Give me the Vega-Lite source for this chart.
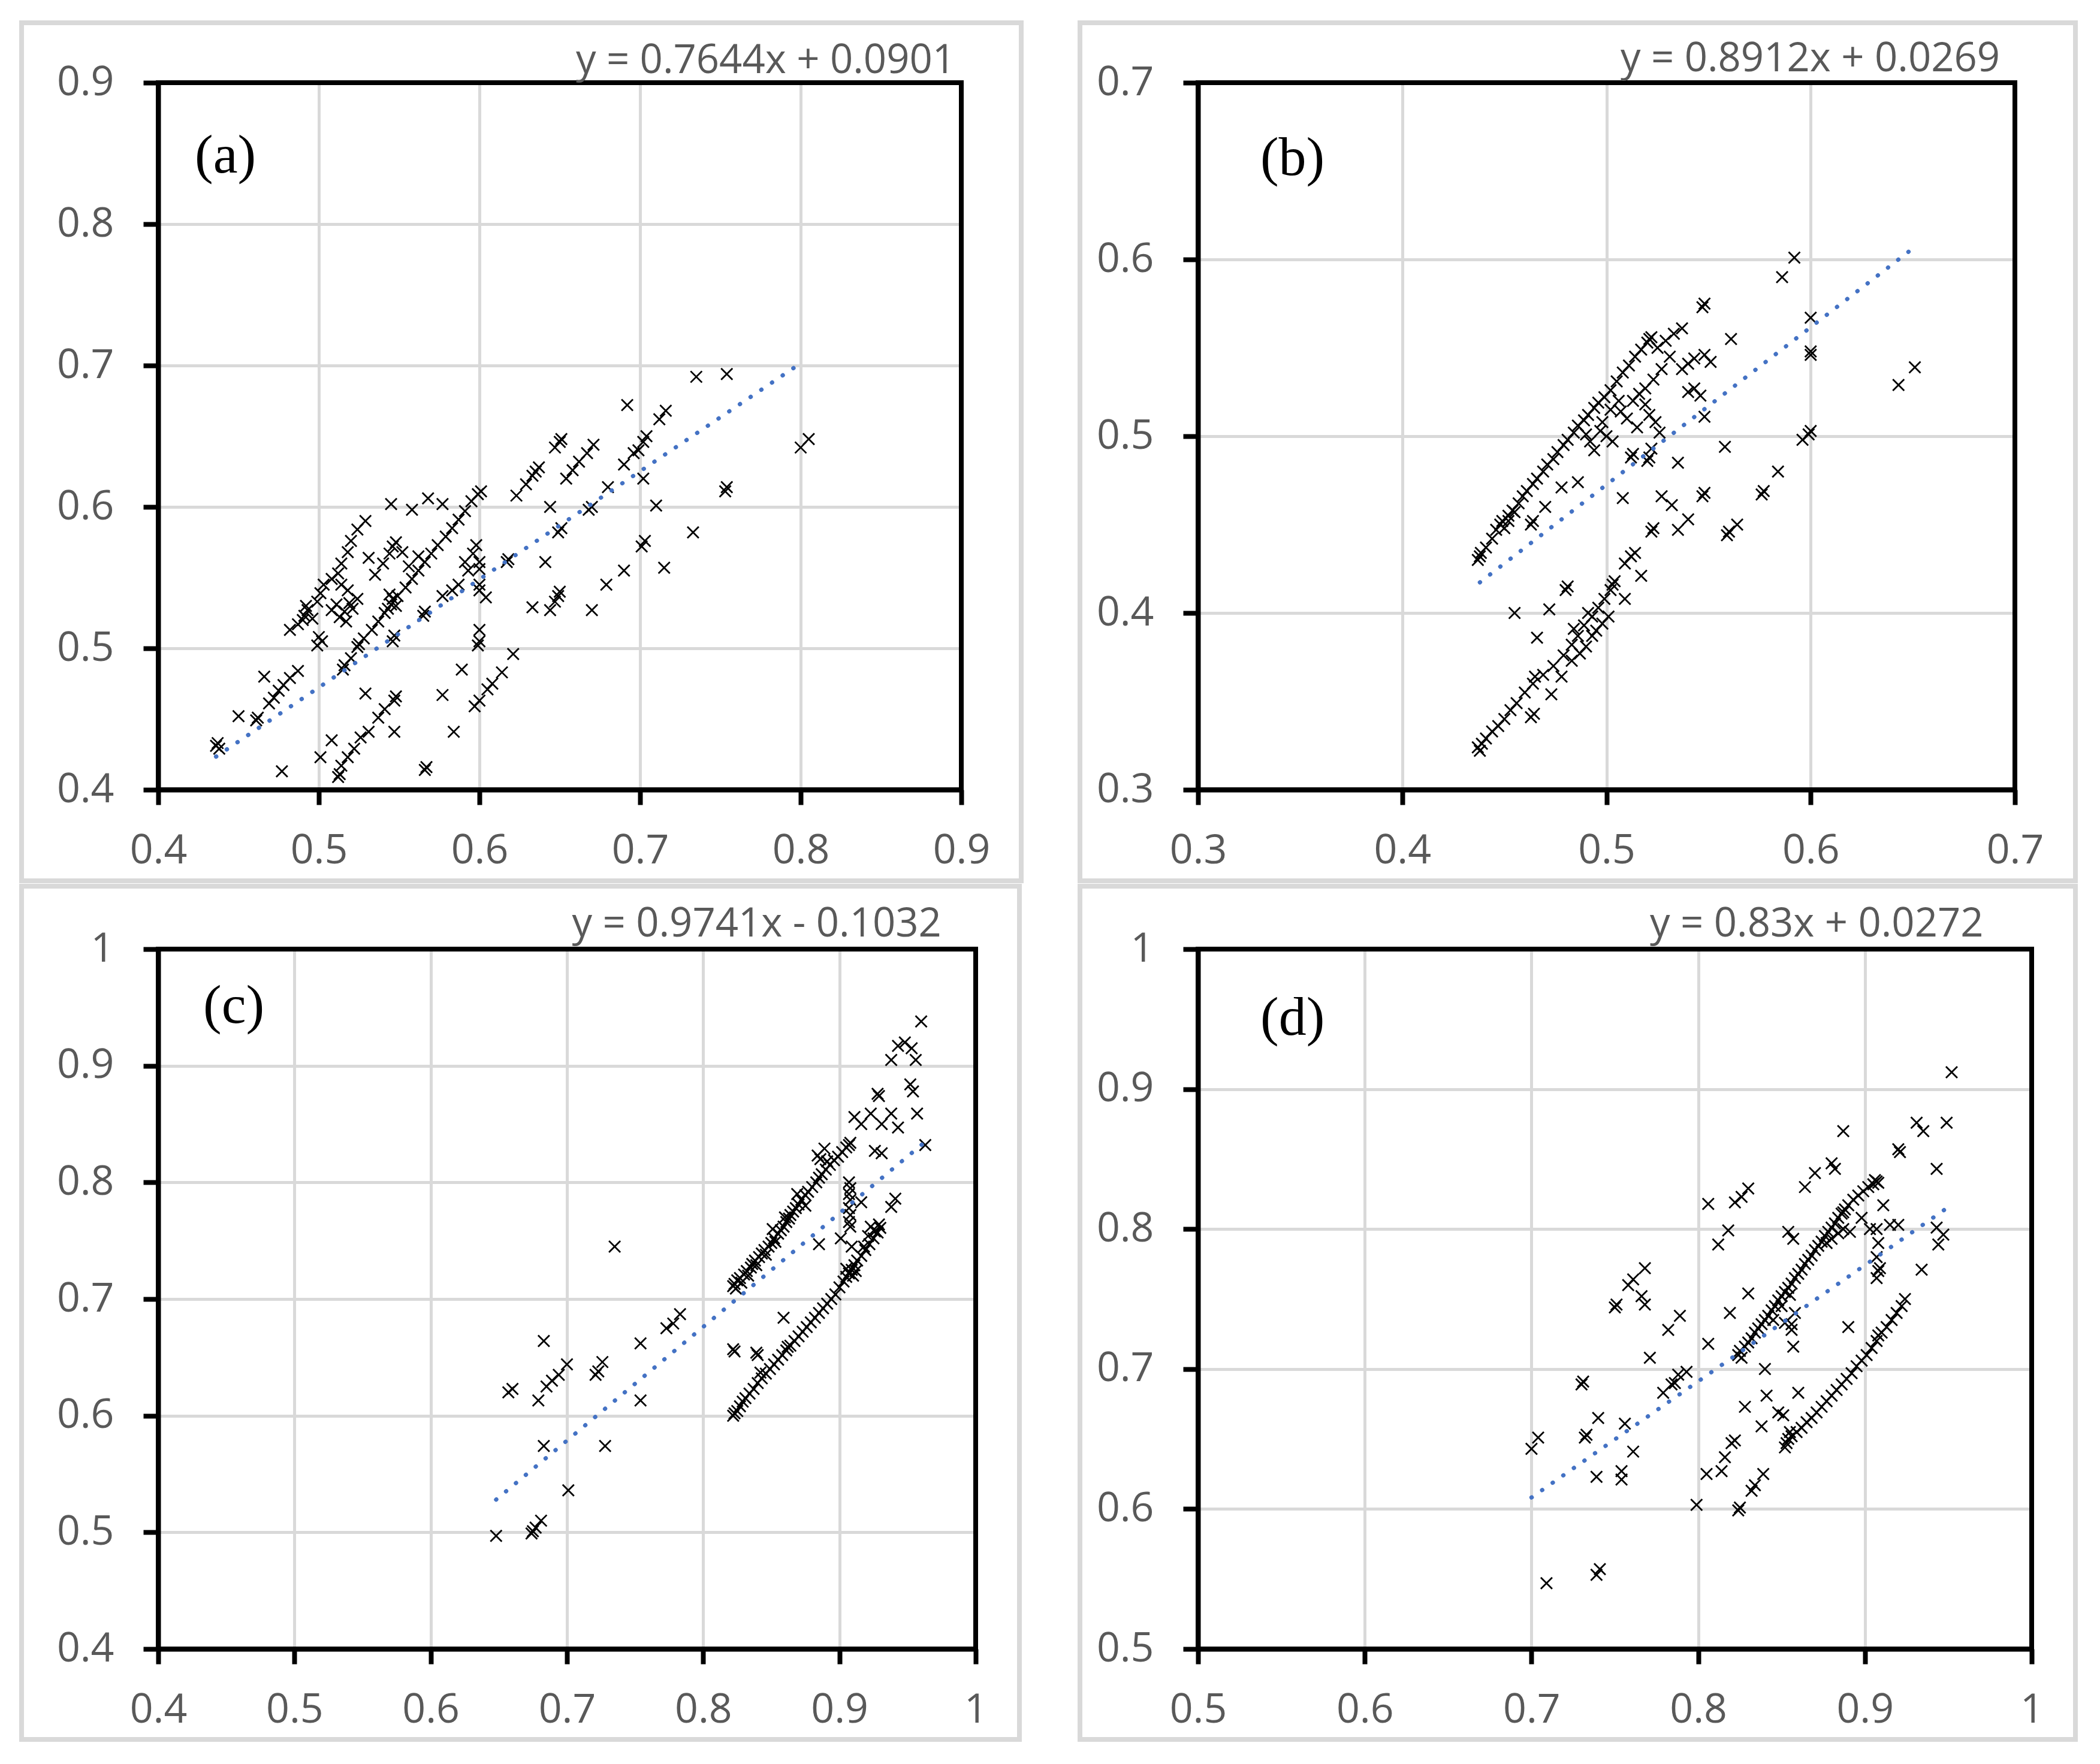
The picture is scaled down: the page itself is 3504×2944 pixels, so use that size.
{
  "$schema": "https://vega.github.io/schema/vega-lite/v6.json",
  "background": "white",
  "padding": {"left": 32, "top": 33, "right": 0, "bottom": 0},
  "autosize": {"type": "pad"},
  "bounds": "flush",
  "columns": 2,
  "spacing": {"row": 266, "column": 371},
  "config": {
    "view": {"stroke": null},
    "axis": {"grid": true, "domainColor": "#000000", "domainWidth": 8, "tickColor": "#000000", "tickWidth": 8, "tickSize": 25, "gridColor": "#d9d9d9", "gridWidth": 5, "gridOpacity": 1, "labelFont": "Open Sans", "labelFontSize": 68, "labelColor": "#595959", "labelFlush": false, "labelOverlap": false},
    "axisX": {"labelPadding": 43},
    "axisY": {"labelPadding": 49}
  },
  "datasets": {
    "a": [
      {"x":0.436,"y":0.431},{"x":0.437,"y":0.433},{"x":0.438,"y":0.429},{"x":0.450,"y":0.452},{"x":0.461,"y":0.449},{"x":0.462,"y":0.451},{"x":0.466,"y":0.480},{"x":0.469,"y":0.461},{"x":0.472,"y":0.465},{"x":0.475,"y":0.470},{"x":0.478,"y":0.474},{"x":0.482,"y":0.479},{"x":0.487,"y":0.484},{"x":0.477,"y":0.413},
      {"x":0.482,"y":0.513},{"x":0.487,"y":0.517},{"x":0.491,"y":0.523},{"x":0.493,"y":0.527},{"x":0.496,"y":0.521},{"x":0.499,"y":0.533},{"x":0.501,"y":0.539},{"x":0.503,"y":0.545},{"x":0.508,"y":0.549},{"x":0.512,"y":0.553},{"x":0.514,"y":0.545},{"x":0.514,"y":0.560},{"x":0.518,"y":0.568},{"x":0.520,"y":0.576},{"x":0.524,"y":0.584},{"x":0.529,"y":0.590},
      {"x":0.499,"y":0.502},{"x":0.502,"y":0.505},{"x":0.500,"y":0.508},{"x":0.508,"y":0.527},{"x":0.511,"y":0.531},{"x":0.513,"y":0.522},{"x":0.516,"y":0.526},{"x":0.519,"y":0.532},{"x":0.521,"y":0.528},{"x":0.524,"y":0.535},{"x":0.517,"y":0.519},{"x":0.518,"y":0.541},{"x":0.490,"y":0.520},{"x":0.492,"y":0.530},
      {"x":0.501,"y":0.423},{"x":0.508,"y":0.435},{"x":0.512,"y":0.409},{"x":0.513,"y":0.411},{"x":0.514,"y":0.417},{"x":0.518,"y":0.423},{"x":0.522,"y":0.429},{"x":0.526,"y":0.437},{"x":0.531,"y":0.441},{"x":0.529,"y":0.468},{"x":0.537,"y":0.451},{"x":0.541,"y":0.457},{"x":0.547,"y":0.463},{"x":0.548,"y":0.466},{"x":0.547,"y":0.441},
      {"x":0.515,"y":0.485},{"x":0.516,"y":0.488},{"x":0.520,"y":0.493},{"x":0.524,"y":0.501},{"x":0.525,"y":0.503},{"x":0.528,"y":0.507},{"x":0.533,"y":0.513},{"x":0.537,"y":0.519},{"x":0.541,"y":0.525},{"x":0.545,"y":0.531},{"x":0.549,"y":0.537},{"x":0.554,"y":0.543},{"x":0.558,"y":0.549},{"x":0.562,"y":0.555},{"x":0.566,"y":0.561},{"x":0.570,"y":0.567},{"x":0.574,"y":0.573},{"x":0.579,"y":0.579},{"x":0.583,"y":0.585},{"x":0.587,"y":0.591},{"x":0.591,"y":0.597},{"x":0.595,"y":0.604},{"x":0.599,"y":0.609},{"x":0.601,"y":0.611},
      {"x":0.543,"y":0.528},{"x":0.546,"y":0.535},{"x":0.548,"y":0.530},{"x":0.544,"y":0.538},{"x":0.547,"y":0.509},{"x":0.546,"y":0.505},{"x":0.546,"y":0.572},{"x":0.548,"y":0.575},{"x":0.544,"y":0.567},{"x":0.545,"y":0.602},{"x":0.558,"y":0.598},{"x":0.568,"y":0.606},{"x":0.577,"y":0.602},{"x":0.531,"y":0.564},{"x":0.535,"y":0.552},{"x":0.540,"y":0.560},{"x":0.552,"y":0.568},{"x":0.556,"y":0.558},{"x":0.562,"y":0.565},
      {"x":0.565,"y":0.523},{"x":0.566,"y":0.526},{"x":0.566,"y":0.414},{"x":0.567,"y":0.416},{"x":0.577,"y":0.467},{"x":0.584,"y":0.441},{"x":0.589,"y":0.485},{"x":0.599,"y":0.502},{"x":0.600,"y":0.505},{"x":0.600,"y":0.513},
      {"x":0.597,"y":0.459},{"x":0.600,"y":0.463},{"x":0.605,"y":0.471},{"x":0.608,"y":0.475},{"x":0.614,"y":0.483},{"x":0.621,"y":0.496},
      {"x":0.600,"y":0.541},{"x":0.600,"y":0.545},{"x":0.604,"y":0.536},{"x":0.598,"y":0.573},{"x":0.600,"y":0.561},{"x":0.596,"y":0.567},{"x":0.591,"y":0.561},{"x":0.593,"y":0.555},{"x":0.587,"y":0.545},{"x":0.583,"y":0.541},{"x":0.577,"y":0.537},{"x":0.600,"y":0.556},
      {"x":0.617,"y":0.561},{"x":0.618,"y":0.563},{"x":0.623,"y":0.608},{"x":0.629,"y":0.616},{"x":0.633,"y":0.622},{"x":0.635,"y":0.625},{"x":0.637,"y":0.628},{"x":0.644,"y":0.600},{"x":0.641,"y":0.561},
      {"x":0.633,"y":0.529},{"x":0.644,"y":0.527},{"x":0.647,"y":0.533},{"x":0.649,"y":0.537},{"x":0.650,"y":0.540},{"x":0.649,"y":0.582},{"x":0.651,"y":0.585},{"x":0.647,"y":0.642},{"x":0.650,"y":0.646},{"x":0.651,"y":0.648},
      {"x":0.654,"y":0.620},{"x":0.658,"y":0.626},{"x":0.662,"y":0.632},{"x":0.667,"y":0.638},{"x":0.671,"y":0.644},{"x":0.668,"y":0.598},{"x":0.670,"y":0.600},{"x":0.670,"y":0.527},{"x":0.679,"y":0.545},{"x":0.690,"y":0.555},{"x":0.680,"y":0.614},{"x":0.692,"y":0.672},
      {"x":0.690,"y":0.630},{"x":0.696,"y":0.638},{"x":0.699,"y":0.640},{"x":0.702,"y":0.646},{"x":0.702,"y":0.620},{"x":0.701,"y":0.572},{"x":0.703,"y":0.576},{"x":0.710,"y":0.601},{"x":0.715,"y":0.557},{"x":0.704,"y":0.650},{"x":0.712,"y":0.662},{"x":0.716,"y":0.668},
      {"x":0.733,"y":0.582},{"x":0.735,"y":0.692},{"x":0.754,"y":0.694},{"x":0.753,"y":0.611},{"x":0.754,"y":0.614},{"x":0.800,"y":0.642},{"x":0.805,"y":0.648}
    ],
    "ta": [{"x":0.436,"y":0.4234},{"x":0.800,"y":0.7016}],
    "b": [
      {"x":0.438,"y":0.432},{"x":0.4385,"y":0.434},{"x":0.437,"y":0.430},{"x":0.441,"y":0.437},{"x":0.444,"y":0.442},{"x":0.446,"y":0.447},{"x":0.448,"y":0.450},{"x":0.449,"y":0.452},{"x":0.452,"y":0.455},{"x":0.454,"y":0.458},{"x":0.457,"y":0.462},{"x":0.459,"y":0.466},{"x":0.461,"y":0.469},{"x":0.464,"y":0.473},{"x":0.466,"y":0.476},{"x":0.469,"y":0.480},{"x":0.471,"y":0.484},{"x":0.474,"y":0.487},{"x":0.476,"y":0.491},{"x":0.479,"y":0.495},{"x":0.481,"y":0.498},{"x":0.484,"y":0.502},{"x":0.486,"y":0.506},{"x":0.489,"y":0.509},{"x":0.491,"y":0.512},{"x":0.494,"y":0.516},{"x":0.496,"y":0.519},{"x":0.499,"y":0.522},{"x":0.502,"y":0.526},{"x":0.505,"y":0.531},{"x":0.508,"y":0.536},{"x":0.511,"y":0.540},{"x":0.514,"y":0.545},{"x":0.517,"y":0.549},{"x":0.520,"y":0.553},{"x":0.521,"y":0.555},{"x":0.522,"y":0.556},
      {"x":0.450,"y":0.448},{"x":0.452,"y":0.452},{"x":0.455,"y":0.457},{"x":0.463,"y":0.450},{"x":0.464,"y":0.452},
      {"x":0.525,"y":0.550},{"x":0.529,"y":0.554},{"x":0.533,"y":0.558},{"x":0.537,"y":0.561},{"x":0.547,"y":0.573},{"x":0.548,"y":0.575},
      {"x":0.497,"y":0.503},{"x":0.500,"y":0.500},{"x":0.503,"y":0.497},{"x":0.507,"y":0.514},{"x":0.510,"y":0.510},{"x":0.513,"y":0.520},{"x":0.516,"y":0.524},{"x":0.519,"y":0.518},{"x":0.521,"y":0.512},{"x":0.524,"y":0.508},{"x":0.526,"y":0.502},{"x":0.519,"y":0.527},{"x":0.523,"y":0.532},{"x":0.527,"y":0.538},{"x":0.531,"y":0.545},{"x":0.522,"y":0.493},{"x":0.521,"y":0.488},{"x":0.520,"y":0.486},{"x":0.515,"y":0.505},{"x":0.506,"y":0.520},{"x":0.502,"y":0.515},{"x":0.498,"y":0.508},{"x":0.492,"y":0.497},{"x":0.494,"y":0.492},{"x":0.490,"y":0.501},
      {"x":0.512,"y":0.488},{"x":0.513,"y":0.490},{"x":0.522,"y":0.446},{"x":0.523,"y":0.448},{"x":0.508,"y":0.465},{"x":0.535,"y":0.485},{"x":0.527,"y":0.466},{"x":0.532,"y":0.461},{"x":0.535,"y":0.447},{"x":0.540,"y":0.453},{"x":0.547,"y":0.466},{"x":0.548,"y":0.468},
      {"x":0.540,"y":0.525},{"x":0.543,"y":0.527},{"x":0.546,"y":0.523},{"x":0.548,"y":0.511},{"x":0.537,"y":0.538},{"x":0.540,"y":0.541},{"x":0.543,"y":0.544},{"x":0.548,"y":0.546},{"x":0.551,"y":0.542},{"x":0.561,"y":0.555},{"x":0.558,"y":0.494},
      {"x":0.559,"y":0.444},{"x":0.560,"y":0.446},{"x":0.564,"y":0.450},{"x":0.576,"y":0.467},{"x":0.577,"y":0.469},{"x":0.584,"y":0.480},{"x":0.586,"y":0.590},{"x":0.592,"y":0.601},{"x":0.600,"y":0.567},{"x":0.600,"y":0.546},{"x":0.600,"y":0.548},{"x":0.596,"y":0.498},{"x":0.599,"y":0.501},{"x":0.600,"y":0.503},{"x":0.643,"y":0.529},{"x":0.651,"y":0.539},
      {"x":0.438,"y":0.322},{"x":0.437,"y":0.324},{"x":0.439,"y":0.326},{"x":0.441,"y":0.329},{"x":0.444,"y":0.333},{"x":0.447,"y":0.336},{"x":0.450,"y":0.340},{"x":0.453,"y":0.345},{"x":0.456,"y":0.349},{"x":0.460,"y":0.355},{"x":0.464,"y":0.360},{"x":0.469,"y":0.365},{"x":0.474,"y":0.370},{"x":0.479,"y":0.376},{"x":0.483,"y":0.382},{"x":0.486,"y":0.387},{"x":0.489,"y":0.393},{"x":0.493,"y":0.398},{"x":0.496,"y":0.403},{"x":0.499,"y":0.408},{"x":0.502,"y":0.413},{"x":0.504,"y":0.418},{"x":0.503,"y":0.416},
      {"x":0.478,"y":0.364},{"x":0.483,"y":0.373},{"x":0.487,"y":0.377},{"x":0.490,"y":0.381},{"x":0.493,"y":0.387},{"x":0.495,"y":0.390},{"x":0.498,"y":0.394},{"x":0.501,"y":0.398},
      {"x":0.463,"y":0.341},{"x":0.4645,"y":0.343},{"x":0.465,"y":0.364},{"x":0.473,"y":0.354},{"x":0.466,"y":0.386},{"x":0.455,"y":0.400},{"x":0.472,"y":0.402},{"x":0.480,"y":0.413},{"x":0.481,"y":0.415},{"x":0.484,"y":0.391},{"x":0.491,"y":0.400},{"x":0.509,"y":0.408},{"x":0.517,"y":0.421},{"x":0.514,"y":0.434},{"x":0.509,"y":0.428},{"x":0.512,"y":0.432},{"x":0.470,"y":0.460},{"x":0.478,"y":0.471},{"x":0.486,"y":0.474}
    ],
    "tb": [{"x":0.438,"y":0.4173},{"x":0.651,"y":0.6071}],
    "c": [
      {"x":0.648,"y":0.497},{"x":0.674,"y":0.499},{"x":0.675,"y":0.501},{"x":0.677,"y":0.504},{"x":0.681,"y":0.510},{"x":0.683,"y":0.574},{"x":0.701,"y":0.536},{"x":0.728,"y":0.574},
      {"x":0.657,"y":0.620},{"x":0.660,"y":0.623},{"x":0.679,"y":0.613},{"x":0.685,"y":0.625},{"x":0.689,"y":0.630},{"x":0.694,"y":0.635},{"x":0.700,"y":0.644},{"x":0.683,"y":0.664},{"x":0.721,"y":0.635},{"x":0.723,"y":0.638},{"x":0.726,"y":0.646},
      {"x":0.735,"y":0.745},{"x":0.754,"y":0.662},{"x":0.754,"y":0.613},{"x":0.773,"y":0.675},{"x":0.778,"y":0.679},{"x":0.783,"y":0.687},
      {"x":0.822,"y":0.711},{"x":0.823,"y":0.713},{"x":0.824,"y":0.709},{"x":0.825,"y":0.716},{"x":0.827,"y":0.718},{"x":0.828,"y":0.714},{"x":0.830,"y":0.721},{"x":0.832,"y":0.724},{"x":0.833,"y":0.720},{"x":0.835,"y":0.727},{"x":0.836,"y":0.730},{"x":0.838,"y":0.733},{"x":0.839,"y":0.729},{"x":0.841,"y":0.736},{"x":0.843,"y":0.739},{"x":0.845,"y":0.742},{"x":0.846,"y":0.738},{"x":0.848,"y":0.745},{"x":0.850,"y":0.748},{"x":0.852,"y":0.752},{"x":0.853,"y":0.749},{"x":0.855,"y":0.756},{"x":0.857,"y":0.759},{"x":0.859,"y":0.762},{"x":0.861,"y":0.766},{"x":0.863,"y":0.769},{"x":0.864,"y":0.772},{"x":0.866,"y":0.775},{"x":0.868,"y":0.778},{"x":0.870,"y":0.781},{"x":0.872,"y":0.785},{"x":0.875,"y":0.789},{"x":0.877,"y":0.792},{"x":0.880,"y":0.796},{"x":0.883,"y":0.800},{"x":0.885,"y":0.804},{"x":0.887,"y":0.807},{"x":0.890,"y":0.811},{"x":0.893,"y":0.815},{"x":0.896,"y":0.819},{"x":0.899,"y":0.822},{"x":0.902,"y":0.826},{"x":0.905,"y":0.830},{"x":0.907,"y":0.832},{"x":0.908,"y":0.834},{"x":0.886,"y":0.820},{"x":0.884,"y":0.823},{"x":0.889,"y":0.829},{"x":0.891,"y":0.818},{"x":0.869,"y":0.790},{"x":0.875,"y":0.780},{"x":0.860,"y":0.770},{"x":0.851,"y":0.760},
      {"x":0.822,"y":0.600},{"x":0.823,"y":0.602},{"x":0.825,"y":0.604},{"x":0.827,"y":0.608},{"x":0.829,"y":0.612},{"x":0.831,"y":0.615},{"x":0.834,"y":0.619},{"x":0.837,"y":0.623},{"x":0.840,"y":0.628},{"x":0.843,"y":0.632},{"x":0.846,"y":0.636},{"x":0.849,"y":0.640},{"x":0.852,"y":0.644},{"x":0.855,"y":0.648},{"x":0.858,"y":0.652},{"x":0.861,"y":0.656},{"x":0.864,"y":0.660},{"x":0.867,"y":0.664},{"x":0.870,"y":0.668},{"x":0.873,"y":0.672},{"x":0.876,"y":0.676},{"x":0.879,"y":0.680},{"x":0.882,"y":0.684},{"x":0.885,"y":0.688},{"x":0.888,"y":0.692},{"x":0.891,"y":0.696},{"x":0.894,"y":0.700},{"x":0.897,"y":0.704},{"x":0.900,"y":0.710},{"x":0.903,"y":0.715},{"x":0.905,"y":0.719},{"x":0.907,"y":0.722},{"x":0.909,"y":0.725},{"x":0.911,"y":0.729},{"x":0.913,"y":0.733},{"x":0.916,"y":0.737},{"x":0.919,"y":0.742},{"x":0.922,"y":0.747},{"x":0.925,"y":0.752},{"x":0.928,"y":0.757},{"x":0.930,"y":0.761},{"x":0.905,"y":0.726},{"x":0.910,"y":0.720},{"x":0.912,"y":0.724},
      {"x":0.822,"y":0.657},{"x":0.823,"y":0.655},{"x":0.839,"y":0.654},{"x":0.840,"y":0.652},{"x":0.842,"y":0.637},{"x":0.859,"y":0.684},{"x":0.862,"y":0.659},
      {"x":0.907,"y":0.800},{"x":0.908,"y":0.795},{"x":0.907,"y":0.790},{"x":0.908,"y":0.785},{"x":0.907,"y":0.778},{"x":0.908,"y":0.772},{"x":0.907,"y":0.766},{"x":0.908,"y":0.762},{"x":0.909,"y":0.745},{"x":0.901,"y":0.752},{"x":0.885,"y":0.747},{"x":0.916,"y":0.783},{"x":0.918,"y":0.745},
      {"x":0.911,"y":0.856},{"x":0.916,"y":0.850},{"x":0.923,"y":0.859},{"x":0.931,"y":0.850},{"x":0.938,"y":0.859},{"x":0.928,"y":0.876},{"x":0.929,"y":0.874},{"x":0.938,"y":0.905},{"x":0.943,"y":0.917},{"x":0.948,"y":0.920},{"x":0.953,"y":0.915},{"x":0.956,"y":0.905},{"x":0.960,"y":0.938},{"x":0.952,"y":0.884},{"x":0.954,"y":0.878},{"x":0.957,"y":0.859},{"x":0.963,"y":0.832},{"x":0.943,"y":0.847},{"x":0.926,"y":0.827},{"x":0.931,"y":0.825},{"x":0.941,"y":0.786},{"x":0.938,"y":0.779},{"x":0.923,"y":0.762},{"x":0.926,"y":0.758},{"x":0.921,"y":0.754},{"x":0.929,"y":0.764}
    ],
    "tc": [{"x":0.648,"y":0.5280},{"x":0.962,"y":0.8339}],
    "d": [
      {"x":0.700,"y":0.643},{"x":0.704,"y":0.651},{"x":0.709,"y":0.547},{"x":0.730,"y":0.689},{"x":0.731,"y":0.691},{"x":0.732,"y":0.651},{"x":0.733,"y":0.653},{"x":0.740,"y":0.665},{"x":0.739,"y":0.623},{"x":0.739,"y":0.553},{"x":0.741,"y":0.557},{"x":0.750,"y":0.744},{"x":0.751,"y":0.746},
      {"x":0.758,"y":0.760},{"x":0.761,"y":0.764},{"x":0.768,"y":0.772},{"x":0.766,"y":0.752},{"x":0.768,"y":0.746},{"x":0.756,"y":0.661},{"x":0.761,"y":0.641},{"x":0.754,"y":0.627},{"x":0.754,"y":0.621},
      {"x":0.771,"y":0.708},{"x":0.782,"y":0.728},{"x":0.789,"y":0.738},{"x":0.779,"y":0.683},{"x":0.784,"y":0.689},{"x":0.788,"y":0.696},{"x":0.793,"y":0.698},{"x":0.786,"y":0.690},
      {"x":0.799,"y":0.603},{"x":0.806,"y":0.818},{"x":0.818,"y":0.799},{"x":0.812,"y":0.789},{"x":0.822,"y":0.819},{"x":0.826,"y":0.823},{"x":0.830,"y":0.829},{"x":0.819,"y":0.740},{"x":0.806,"y":0.718},
      {"x":0.805,"y":0.625},{"x":0.814,"y":0.627},{"x":0.816,"y":0.637},{"x":0.820,"y":0.647},{"x":0.822,"y":0.649},{"x":0.824,"y":0.599},{"x":0.825,"y":0.601},{"x":0.832,"y":0.613},{"x":0.834,"y":0.617},{"x":0.839,"y":0.625},{"x":0.828,"y":0.673},{"x":0.838,"y":0.659},{"x":0.841,"y":0.681},{"x":0.840,"y":0.700},{"x":0.830,"y":0.754},
      {"x":0.824,"y":0.710},{"x":0.825,"y":0.713},{"x":0.826,"y":0.708},{"x":0.828,"y":0.716},{"x":0.830,"y":0.719},{"x":0.832,"y":0.722},{"x":0.834,"y":0.726},{"x":0.836,"y":0.729},{"x":0.838,"y":0.732},{"x":0.840,"y":0.735},{"x":0.842,"y":0.738},{"x":0.844,"y":0.742},{"x":0.846,"y":0.745},{"x":0.848,"y":0.749},{"x":0.850,"y":0.752},{"x":0.852,"y":0.755},{"x":0.854,"y":0.758},{"x":0.856,"y":0.761},{"x":0.858,"y":0.765},{"x":0.860,"y":0.768},{"x":0.862,"y":0.771},{"x":0.864,"y":0.775},{"x":0.866,"y":0.778},{"x":0.868,"y":0.781},{"x":0.870,"y":0.785},{"x":0.872,"y":0.788},{"x":0.874,"y":0.791},{"x":0.876,"y":0.795},{"x":0.878,"y":0.798},{"x":0.880,"y":0.801},{"x":0.882,"y":0.804},{"x":0.884,"y":0.808},{"x":0.886,"y":0.811},{"x":0.888,"y":0.814},{"x":0.890,"y":0.817},{"x":0.893,"y":0.821},{"x":0.896,"y":0.824},{"x":0.899,"y":0.827},{"x":0.902,"y":0.830},{"x":0.905,"y":0.832},{"x":0.907,"y":0.834},{"x":0.908,"y":0.833},{"x":0.906,"y":0.835},
      {"x":0.845,"y":0.735},{"x":0.850,"y":0.745},{"x":0.855,"y":0.753},{"x":0.852,"y":0.733},{"x":0.856,"y":0.728},{"x":0.858,"y":0.740},{"x":0.877,"y":0.790},{"x":0.880,"y":0.793},{"x":0.884,"y":0.797},{"x":0.887,"y":0.800},{"x":0.891,"y":0.798},{"x":0.887,"y":0.812},
      {"x":0.864,"y":0.830},{"x":0.870,"y":0.840},{"x":0.880,"y":0.847},{"x":0.882,"y":0.843},{"x":0.887,"y":0.870},{"x":0.854,"y":0.798},{"x":0.857,"y":0.793},{"x":0.856,"y":0.732},{"x":0.857,"y":0.716},{"x":0.848,"y":0.669},{"x":0.851,"y":0.667},{"x":0.860,"y":0.683},
      {"x":0.853,"y":0.647},{"x":0.854,"y":0.650},{"x":0.856,"y":0.652},{"x":0.859,"y":0.655},{"x":0.862,"y":0.658},{"x":0.865,"y":0.662},{"x":0.868,"y":0.665},{"x":0.871,"y":0.669},{"x":0.874,"y":0.673},{"x":0.877,"y":0.677},{"x":0.880,"y":0.681},{"x":0.883,"y":0.685},{"x":0.886,"y":0.689},{"x":0.889,"y":0.693},{"x":0.892,"y":0.697},{"x":0.895,"y":0.702},{"x":0.898,"y":0.706},{"x":0.901,"y":0.710},{"x":0.904,"y":0.715},{"x":0.907,"y":0.720},{"x":0.908,"y":0.724},{"x":0.910,"y":0.726},{"x":0.913,"y":0.730},{"x":0.916,"y":0.735},{"x":0.919,"y":0.740},{"x":0.922,"y":0.745},{"x":0.924,"y":0.750},{"x":0.852,"y":0.644},{"x":0.855,"y":0.655},{"x":0.890,"y":0.730},
      {"x":0.907,"y":0.800},{"x":0.908,"y":0.790},{"x":0.907,"y":0.780},{"x":0.908,"y":0.770},{"x":0.907,"y":0.765},{"x":0.909,"y":0.772},
      {"x":0.911,"y":0.817},{"x":0.915,"y":0.803},{"x":0.920,"y":0.803},{"x":0.920,"y":0.857},{"x":0.921,"y":0.855},{"x":0.931,"y":0.876},{"x":0.935,"y":0.870},{"x":0.949,"y":0.876},{"x":0.952,"y":0.912},{"x":0.943,"y":0.843},{"x":0.934,"y":0.771},{"x":0.943,"y":0.801},{"x":0.947,"y":0.796},{"x":0.944,"y":0.789},{"x":0.903,"y":0.800},{"x":0.898,"y":0.808}
    ],
    "td": [{"x":0.700,"y":0.6082},{"x":0.950,"y":0.8157}]
  },
  "concat": [
    {
      "width": 1340, "height": 1180,
      "layer": [
        {"data": {"values": [{}]}, "mark": {"type": "rect", "filled": false, "stroke": "#d9d9d9", "strokeWidth": 8},
         "encoding": {"x": {"datum": 0.31493, "type": "quantitative", "scale": {"domain": [0.4, 0.9], "nice": false, "zero": false}, "axis": {"title": null, "grid": true, "values": [0.4, 0.5, 0.6, 0.7, 0.8, 0.9], "format": ".1~f"}}, "x2": {"datum": 0.93731}, "y": {"datum": 0.94237, "type": "quantitative", "scale": {"domain": [0.4, 0.9], "nice": false, "zero": false}, "axis": {"title": null, "grid": true, "values": [0.4, 0.5, 0.6, 0.7, 0.8, 0.9], "format": ".1~f"}}, "y2": {"datum": 0.33559}}},
        {"data": {"name": "a"}, "mark": {"type": "point", "shape": "M-1,-1L1,1M-1,1L1,-1", "filled": false, "stroke": "#000000", "strokeWidth": 2.8, "size": 361, "opacity": 1},
         "encoding": {"x": {"field": "x", "type": "quantitative", "scale": {"domain": [0.4, 0.9], "nice": false, "zero": false}, "axis": {"title": null, "grid": true, "values": [0.4, 0.5, 0.6, 0.7, 0.8, 0.9], "format": ".1~f"}}, "y": {"field": "y", "type": "quantitative", "scale": {"domain": [0.4, 0.9], "nice": false, "zero": false}, "axis": {"title": null, "grid": true, "values": [0.4, 0.5, 0.6, 0.7, 0.8, 0.9], "format": ".1~f"}}}},
        {"data": {"name": "ta"}, "mark": {"type": "line", "stroke": "#4472C4", "strokeWidth": 7, "strokeDash": [0.5, 21], "strokeCap": "round"},
         "encoding": {"x": {"field": "x", "type": "quantitative", "scale": {"domain": [0.4, 0.9], "nice": false, "zero": false}, "axis": {"title": null, "grid": true, "values": [0.4, 0.5, 0.6, 0.7, 0.8, 0.9], "format": ".1~f"}}, "y": {"field": "y", "type": "quantitative", "scale": {"domain": [0.4, 0.9], "nice": false, "zero": false}, "axis": {"title": null, "grid": true, "values": [0.4, 0.5, 0.6, 0.7, 0.8, 0.9], "format": ".1~f"}}}},
        {"data": {"values": [{}]}, "mark": {"type": "rect", "filled": false, "stroke": "#000000", "strokeWidth": 8},
         "encoding": {"x": {"datum": 0.4, "type": "quantitative", "scale": {"domain": [0.4, 0.9], "nice": false, "zero": false}, "axis": {"title": null, "grid": true, "values": [0.4, 0.5, 0.6, 0.7, 0.8, 0.9], "format": ".1~f"}}, "x2": {"datum": 0.9}, "y": {"datum": 0.4, "type": "quantitative", "scale": {"domain": [0.4, 0.9], "nice": false, "zero": false}, "axis": {"title": null, "grid": true, "values": [0.4, 0.5, 0.6, 0.7, 0.8, 0.9], "format": ".1~f"}}, "y2": {"datum": 0.9}}},
        {"data": {"values": [{}]}, "mark": {"type": "text", "text": "y = 0.7644x + 0.0901", "align": "right", "baseline": "alphabetic", "font": "Open Sans", "fontSize": 67, "color": "#595959"},
         "encoding": {"x": {"datum": 0.8963, "type": "quantitative", "scale": {"domain": [0.4, 0.9], "nice": false, "zero": false}, "axis": {"title": null, "grid": true, "values": [0.4, 0.5, 0.6, 0.7, 0.8, 0.9], "format": ".1~f"}}, "y": {"datum": 0.9068, "type": "quantitative", "scale": {"domain": [0.4, 0.9], "nice": false, "zero": false}, "axis": {"title": null, "grid": true, "values": [0.4, 0.5, 0.6, 0.7, 0.8, 0.9], "format": ".1~f"}}}},
        {"data": {"values": [{}]}, "mark": {"type": "text", "text": "(a)", "align": "left", "baseline": "alphabetic", "font": "Liberation Serif", "fontSize": 92, "color": "#000000"},
         "encoding": {"x": {"datum": 0.4228, "type": "quantitative", "scale": {"domain": [0.4, 0.9], "nice": false, "zero": false}, "axis": {"title": null, "grid": true, "values": [0.4, 0.5, 0.6, 0.7, 0.8, 0.9], "format": ".1~f"}}, "y": {"datum": 0.8364, "type": "quantitative", "scale": {"domain": [0.4, 0.9], "nice": false, "zero": false}, "axis": {"title": null, "grid": true, "values": [0.4, 0.5, 0.6, 0.7, 0.8, 0.9], "format": ".1~f"}}}}
      ]
    },
    {
      "width": 1363, "height": 1180,
      "layer": [
        {"data": {"values": [{}]}, "mark": {"type": "rect", "filled": false, "stroke": "#d9d9d9", "strokeWidth": 8},
         "encoding": {"x": {"datum": 0.24219, "type": "quantitative", "scale": {"domain": [0.3, 0.7], "nice": false, "zero": false}, "axis": {"title": null, "grid": true, "values": [0.3, 0.4, 0.5, 0.6, 0.7], "format": ".1~f"}}, "x2": {"datum": 0.72964}, "y": {"datum": 0.7339, "type": "quantitative", "scale": {"domain": [0.3, 0.7], "nice": false, "zero": false}, "axis": {"title": null, "grid": true, "values": [0.3, 0.4, 0.5, 0.6, 0.7], "format": ".1~f"}}, "y2": {"datum": 0.24847}}},
        {"data": {"name": "b"}, "mark": {"type": "point", "shape": "M-1,-1L1,1M-1,1L1,-1", "filled": false, "stroke": "#000000", "strokeWidth": 2.8, "size": 361, "opacity": 1},
         "encoding": {"x": {"field": "x", "type": "quantitative", "scale": {"domain": [0.3, 0.7], "nice": false, "zero": false}, "axis": {"title": null, "grid": true, "values": [0.3, 0.4, 0.5, 0.6, 0.7], "format": ".1~f"}}, "y": {"field": "y", "type": "quantitative", "scale": {"domain": [0.3, 0.7], "nice": false, "zero": false}, "axis": {"title": null, "grid": true, "values": [0.3, 0.4, 0.5, 0.6, 0.7], "format": ".1~f"}}}},
        {"data": {"name": "tb"}, "mark": {"type": "line", "stroke": "#4472C4", "strokeWidth": 7, "strokeDash": [0.5, 21], "strokeCap": "round"},
         "encoding": {"x": {"field": "x", "type": "quantitative", "scale": {"domain": [0.3, 0.7], "nice": false, "zero": false}, "axis": {"title": null, "grid": true, "values": [0.3, 0.4, 0.5, 0.6, 0.7], "format": ".1~f"}}, "y": {"field": "y", "type": "quantitative", "scale": {"domain": [0.3, 0.7], "nice": false, "zero": false}, "axis": {"title": null, "grid": true, "values": [0.3, 0.4, 0.5, 0.6, 0.7], "format": ".1~f"}}}},
        {"data": {"values": [{}]}, "mark": {"type": "rect", "filled": false, "stroke": "#000000", "strokeWidth": 8},
         "encoding": {"x": {"datum": 0.3, "type": "quantitative", "scale": {"domain": [0.3, 0.7], "nice": false, "zero": false}, "axis": {"title": null, "grid": true, "values": [0.3, 0.4, 0.5, 0.6, 0.7], "format": ".1~f"}}, "x2": {"datum": 0.7}, "y": {"datum": 0.3, "type": "quantitative", "scale": {"domain": [0.3, 0.7], "nice": false, "zero": false}, "axis": {"title": null, "grid": true, "values": [0.3, 0.4, 0.5, 0.6, 0.7], "format": ".1~f"}}, "y2": {"datum": 0.7}}},
        {"data": {"values": [{}]}, "mark": {"type": "text", "text": "y = 0.8912x + 0.0269", "align": "right", "baseline": "alphabetic", "font": "Open Sans", "fontSize": 67, "color": "#595959"},
         "encoding": {"x": {"datum": 0.6927, "type": "quantitative", "scale": {"domain": [0.3, 0.7], "nice": false, "zero": false}, "axis": {"title": null, "grid": true, "values": [0.3, 0.4, 0.5, 0.6, 0.7], "format": ".1~f"}}, "y": {"datum": 0.7064, "type": "quantitative", "scale": {"domain": [0.3, 0.7], "nice": false, "zero": false}, "axis": {"title": null, "grid": true, "values": [0.3, 0.4, 0.5, 0.6, 0.7], "format": ".1~f"}}}},
        {"data": {"values": [{}]}, "mark": {"type": "text", "text": "(b)", "align": "left", "baseline": "alphabetic", "font": "Liberation Serif", "fontSize": 92, "color": "#000000"},
         "encoding": {"x": {"datum": 0.3305, "type": "quantitative", "scale": {"domain": [0.3, 0.7], "nice": false, "zero": false}, "axis": {"title": null, "grid": true, "values": [0.3, 0.4, 0.5, 0.6, 0.7], "format": ".1~f"}}, "y": {"datum": 0.6478, "type": "quantitative", "scale": {"domain": [0.3, 0.7], "nice": false, "zero": false}, "axis": {"title": null, "grid": true, "values": [0.3, 0.4, 0.5, 0.6, 0.7], "format": ".1~f"}}}}
      ]
    },
    {
      "width": 1364, "height": 1168,
      "layer": [
        {"data": {"values": [{}]}, "mark": {"type": "rect", "filled": false, "stroke": "#d9d9d9", "strokeWidth": 8},
         "encoding": {"x": {"datum": 0.29971, "type": "quantitative", "scale": {"domain": [0.4, 1], "nice": false, "zero": false}, "axis": {"title": null, "grid": true, "values": [0.4, 0.5, 0.6, 0.7, 0.8, 0.9, 1], "format": ".1~f"}}, "x2": {"datum": 1.03211}, "y": {"datum": 1.05394, "type": "quantitative", "scale": {"domain": [0.4, 1], "nice": false, "zero": false}, "axis": {"title": null, "grid": true, "values": [0.4, 0.5, 0.6, 0.7, 0.8, 0.9, 1], "format": ".1~f"}}, "y2": {"datum": 0.32244}}},
        {"data": {"name": "c"}, "mark": {"type": "point", "shape": "M-1,-1L1,1M-1,1L1,-1", "filled": false, "stroke": "#000000", "strokeWidth": 2.8, "size": 361, "opacity": 1},
         "encoding": {"x": {"field": "x", "type": "quantitative", "scale": {"domain": [0.4, 1], "nice": false, "zero": false}, "axis": {"title": null, "grid": true, "values": [0.4, 0.5, 0.6, 0.7, 0.8, 0.9, 1], "format": ".1~f"}}, "y": {"field": "y", "type": "quantitative", "scale": {"domain": [0.4, 1], "nice": false, "zero": false}, "axis": {"title": null, "grid": true, "values": [0.4, 0.5, 0.6, 0.7, 0.8, 0.9, 1], "format": ".1~f"}}}},
        {"data": {"name": "tc"}, "mark": {"type": "line", "stroke": "#4472C4", "strokeWidth": 7, "strokeDash": [0.5, 21], "strokeCap": "round"},
         "encoding": {"x": {"field": "x", "type": "quantitative", "scale": {"domain": [0.4, 1], "nice": false, "zero": false}, "axis": {"title": null, "grid": true, "values": [0.4, 0.5, 0.6, 0.7, 0.8, 0.9, 1], "format": ".1~f"}}, "y": {"field": "y", "type": "quantitative", "scale": {"domain": [0.4, 1], "nice": false, "zero": false}, "axis": {"title": null, "grid": true, "values": [0.4, 0.5, 0.6, 0.7, 0.8, 0.9, 1], "format": ".1~f"}}}},
        {"data": {"values": [{}]}, "mark": {"type": "rect", "filled": false, "stroke": "#000000", "strokeWidth": 8},
         "encoding": {"x": {"datum": 0.4, "type": "quantitative", "scale": {"domain": [0.4, 1], "nice": false, "zero": false}, "axis": {"title": null, "grid": true, "values": [0.4, 0.5, 0.6, 0.7, 0.8, 0.9, 1], "format": ".1~f"}}, "x2": {"datum": 1}, "y": {"datum": 0.4, "type": "quantitative", "scale": {"domain": [0.4, 1], "nice": false, "zero": false}, "axis": {"title": null, "grid": true, "values": [0.4, 0.5, 0.6, 0.7, 0.8, 0.9, 1], "format": ".1~f"}}, "y2": {"datum": 1}}},
        {"data": {"values": [{}]}, "mark": {"type": "text", "text": "y = 0.9741x - 0.1032", "align": "right", "baseline": "alphabetic", "font": "Open Sans", "fontSize": 67, "color": "#595959"},
         "encoding": {"x": {"datum": 0.9749, "type": "quantitative", "scale": {"domain": [0.4, 1], "nice": false, "zero": false}, "axis": {"title": null, "grid": true, "values": [0.4, 0.5, 0.6, 0.7, 0.8, 0.9, 1], "format": ".1~f"}}, "y": {"datum": 1.0108, "type": "quantitative", "scale": {"domain": [0.4, 1], "nice": false, "zero": false}, "axis": {"title": null, "grid": true, "values": [0.4, 0.5, 0.6, 0.7, 0.8, 0.9, 1], "format": ".1~f"}}}},
        {"data": {"values": [{}]}, "mark": {"type": "text", "text": "(c)", "align": "left", "baseline": "alphabetic", "font": "Liberation Serif", "fontSize": 92, "color": "#000000"},
         "encoding": {"x": {"datum": 0.433, "type": "quantitative", "scale": {"domain": [0.4, 1], "nice": false, "zero": false}, "axis": {"title": null, "grid": true, "values": [0.4, 0.5, 0.6, 0.7, 0.8, 0.9, 1], "format": ".1~f"}}, "y": {"datum": 0.9368, "type": "quantitative", "scale": {"domain": [0.4, 1], "nice": false, "zero": false}, "axis": {"title": null, "grid": true, "values": [0.4, 0.5, 0.6, 0.7, 0.8, 0.9, 1], "format": ".1~f"}}}}
      ]
    },
    {
      "width": 1391, "height": 1168,
      "layer": [
        {"data": {"values": [{}]}, "mark": {"type": "rect", "filled": false, "stroke": "#d9d9d9", "strokeWidth": 8},
         "encoding": {"x": {"datum": 0.42919, "type": "quantitative", "scale": {"domain": [0.5, 1], "nice": false, "zero": false}, "axis": {"title": null, "grid": true, "values": [0.5, 0.6, 0.7, 0.8, 0.9, 1], "format": ".1~f"}}, "x2": {"datum": 1.02624}, "y": {"datum": 1.04495, "type": "quantitative", "scale": {"domain": [0.5, 1], "nice": false, "zero": false}, "axis": {"title": null, "grid": true, "values": [0.5, 0.6, 0.7, 0.8, 0.9, 1], "format": ".1~f"}}, "y2": {"datum": 0.43536}}},
        {"data": {"name": "d"}, "mark": {"type": "point", "shape": "M-1,-1L1,1M-1,1L1,-1", "filled": false, "stroke": "#000000", "strokeWidth": 2.8, "size": 361, "opacity": 1},
         "encoding": {"x": {"field": "x", "type": "quantitative", "scale": {"domain": [0.5, 1], "nice": false, "zero": false}, "axis": {"title": null, "grid": true, "values": [0.5, 0.6, 0.7, 0.8, 0.9, 1], "format": ".1~f"}}, "y": {"field": "y", "type": "quantitative", "scale": {"domain": [0.5, 1], "nice": false, "zero": false}, "axis": {"title": null, "grid": true, "values": [0.5, 0.6, 0.7, 0.8, 0.9, 1], "format": ".1~f"}}}},
        {"data": {"name": "td"}, "mark": {"type": "line", "stroke": "#4472C4", "strokeWidth": 7, "strokeDash": [0.5, 21], "strokeCap": "round"},
         "encoding": {"x": {"field": "x", "type": "quantitative", "scale": {"domain": [0.5, 1], "nice": false, "zero": false}, "axis": {"title": null, "grid": true, "values": [0.5, 0.6, 0.7, 0.8, 0.9, 1], "format": ".1~f"}}, "y": {"field": "y", "type": "quantitative", "scale": {"domain": [0.5, 1], "nice": false, "zero": false}, "axis": {"title": null, "grid": true, "values": [0.5, 0.6, 0.7, 0.8, 0.9, 1], "format": ".1~f"}}}},
        {"data": {"values": [{}]}, "mark": {"type": "rect", "filled": false, "stroke": "#000000", "strokeWidth": 8},
         "encoding": {"x": {"datum": 0.5, "type": "quantitative", "scale": {"domain": [0.5, 1], "nice": false, "zero": false}, "axis": {"title": null, "grid": true, "values": [0.5, 0.6, 0.7, 0.8, 0.9, 1], "format": ".1~f"}}, "x2": {"datum": 1}, "y": {"datum": 0.5, "type": "quantitative", "scale": {"domain": [0.5, 1], "nice": false, "zero": false}, "axis": {"title": null, "grid": true, "values": [0.5, 0.6, 0.7, 0.8, 0.9, 1], "format": ".1~f"}}, "y2": {"datum": 1}}},
        {"data": {"values": [{}]}, "mark": {"type": "text", "text": "y = 0.83x + 0.0272", "align": "right", "baseline": "alphabetic", "font": "Open Sans", "fontSize": 67, "color": "#595959"},
         "encoding": {"x": {"datum": 0.9711, "type": "quantitative", "scale": {"domain": [0.5, 1], "nice": false, "zero": false}, "axis": {"title": null, "grid": true, "values": [0.5, 0.6, 0.7, 0.8, 0.9, 1], "format": ".1~f"}}, "y": {"datum": 1.009, "type": "quantitative", "scale": {"domain": [0.5, 1], "nice": false, "zero": false}, "axis": {"title": null, "grid": true, "values": [0.5, 0.6, 0.7, 0.8, 0.9, 1], "format": ".1~f"}}}},
        {"data": {"values": [{}]}, "mark": {"type": "text", "text": "(d)", "align": "left", "baseline": "alphabetic", "font": "Liberation Serif", "fontSize": 92, "color": "#000000"},
         "encoding": {"x": {"datum": 0.5374, "type": "quantitative", "scale": {"domain": [0.5, 1], "nice": false, "zero": false}, "axis": {"title": null, "grid": true, "values": [0.5, 0.6, 0.7, 0.8, 0.9, 1], "format": ".1~f"}}, "y": {"datum": 0.9388, "type": "quantitative", "scale": {"domain": [0.5, 1], "nice": false, "zero": false}, "axis": {"title": null, "grid": true, "values": [0.5, 0.6, 0.7, 0.8, 0.9, 1], "format": ".1~f"}}}}
      ]
    }
  ]
}
